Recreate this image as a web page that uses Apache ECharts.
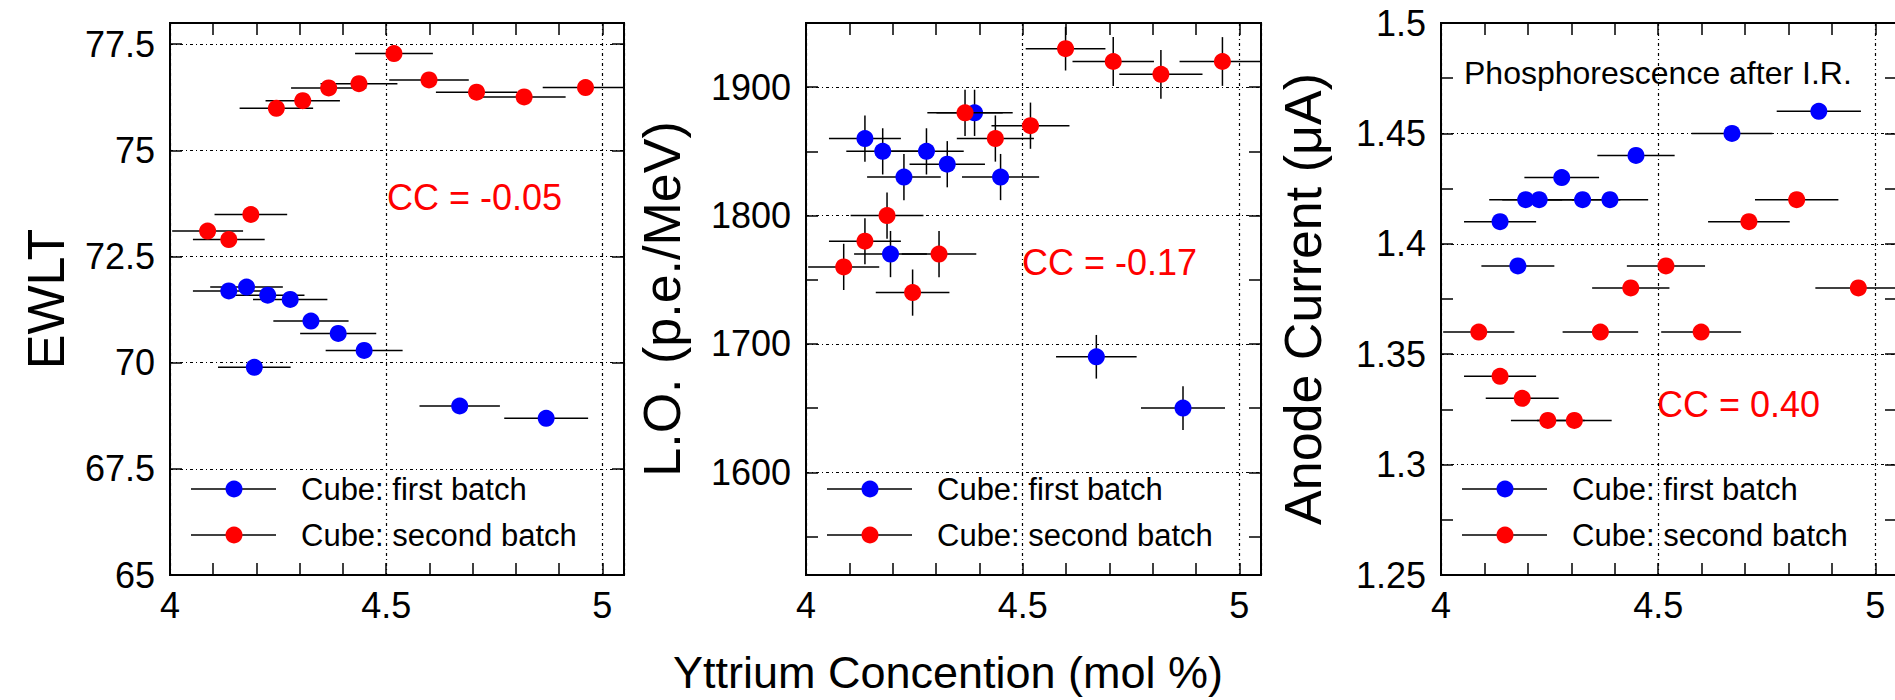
<!DOCTYPE html>
<html><head><meta charset="utf-8">
<script src="https://cdn.jsdelivr.net/npm/echarts@6/dist/echarts.min.js"></script>
<style>html,body{margin:0;padding:0;background:#fff;}#c{width:1895px;height:700px;}</style>
</head><body><div id="c"></div>
<script>
// ---- data ----
const seriesNames = ['Cube: first batch', 'Cube: second batch'];
const blueX    = [4.136, 4.177, 4.226, 4.278, 4.326, 4.389, 4.449, 4.195, 4.670, 4.870];
const blueXErr = [0.083, 0.084, 0.085, 0.086, 0.087, 0.088, 0.089, 0.084, 0.093, 0.097];
const redX     = [4.087, 4.136, 4.187, 4.246, 4.307, 4.367, 4.437, 4.518, 4.599, 4.709, 4.819, 4.961];
const redXErr  = [0.082, 0.083, 0.084, 0.085, 0.086, 0.087, 0.089, 0.090, 0.092, 0.094, 0.096, 0.099];

const blueEWLT = [71.69, 71.78, 71.59, 71.49, 70.98, 70.69, 70.29, 69.89, 68.98, 68.69];
const redEWLT  = [73.10, 72.90, 73.49, 75.99, 76.17, 76.47, 76.57, 77.28, 76.66, 76.37, 76.26, 76.48];

const blueLO    = [1860, 1850, 1830, 1850, 1840, 1880, 1830, 1770, 1690, 1650];
const blueLOErr = [18, 18, 18, 18, 18, 18, 18, 18, 17, 17];
const redLO     = [1760, 1780, 1800, 1740, 1770, 1880, 1860, 1870, 1930, 1920, 1910, 1920];
const redLOErr  = [18, 18, 18, 18, 18, 18, 18, 18, 17, 19, 19, 19];

const blueAnode = [1.41, 1.39, 1.42, 1.43, 1.42, 1.42, 1.44, 1.42, 1.45, 1.46];
const redAnode  = [1.36, 1.34, 1.33, 1.32, 1.32, 1.36, 1.38, 1.39, 1.36, 1.41, 1.42, 1.38];

const yTitles = ['EWLT', 'L.O. (p.e./MeV)', 'Anode Current (\u03bcA)'];
const xTitle = 'Yttrium Concention (mol %)';
const ccLabels = ['CC = -0.05', 'CC = -0.17', 'CC = 0.40'];
const noteText = 'Phosphorescence after I.R.';

// ---- layout ----
const FONT = "'Liberation Sans', Arial, Helvetica, sans-serif";
const BLUE = '#0000ff', RED = '#ff0000';
const panels = [
  {left: 170, width: 454, yMin: 65, yMax: 78, yMajor: 2.5, yMinor: 2.5, nameGap: 98,
   blueY: blueEWLT, redY: redEWLT, blueYErr: null, redYErr: null, cc: [387, 200]},
  {left: 806, width: 455, yMin: 1520, yMax: 1950, yMajor: 100, yMinor: 50, nameGap: 118,
   blueY: blueLO, redY: redLO, blueYErr: blueLOErr, redYErr: redLOErr, cc: [1022, 265]},
  {left: 1441, width: 456, yMin: 1.25, yMax: 1.5, yMajor: 0.05, yMinor: 0.025, nameGap: 112,
   blueY: blueAnode, redY: redAnode, blueYErr: null, redYErr: null, cc: [1657, 407]}
];
const TOP = 23, HEIGHT = 552;
const gridLine = {show: true, lineStyle: {color: '#000', width: 1.2, type: [3, 3, 1, 3]}};
const tickStyle = {show: true, inside: true, length: 12, lineStyle: {color: '#000', width: 1.5}};
const plainNum = v => String(Math.round(v * 1000) / 1000);

const grids = [], xAxes = [], yAxes = [], series = [], graphics = [];

panels.forEach((p, g) => {
  grids.push({left: p.left, top: TOP, width: p.width, height: HEIGHT, show: true,
    borderColor: '#000', borderWidth: 2, backgroundColor: 'transparent', containLabel: false, outerBoundsMode: 'none'});
  // x axes: main (labels + grid lines), bottom minor ticks, top ticks
  xAxes.push({type: 'value', gridIndex: g, min: 4, max: 5.05, interval: 0.5, position: 'bottom',
    axisLine: {show: false}, axisTick: {show: false}, splitLine: gridLine,
    axisLabel: {show: true, fontSize: 36, fontFamily: FONT, color: '#000', margin: 12, showMaxLabel: false,
      formatter: plainNum}});
  xAxes.push({type: 'value', gridIndex: g, min: 4, max: 5.05, interval: 0.1, position: 'bottom',
    axisLine: {show: false}, axisTick: tickStyle, splitLine: {show: false}, axisLabel: {show: false}});
  xAxes.push({type: 'value', gridIndex: g, min: 4, max: 5.05, interval: 0.1, position: 'top',
    axisLine: {show: false}, axisTick: tickStyle, splitLine: {show: false}, axisLabel: {show: false}});
  // y axes
  yAxes.push({type: 'value', gridIndex: g, min: p.yMin, max: p.yMax, minInterval: p.yMajor, maxInterval: p.yMajor,
    position: 'left', axisLine: {show: false}, axisTick: {show: false}, splitLine: gridLine,
    axisLabel: {show: true, fontSize: 36, fontFamily: FONT, color: '#000', margin: 15, formatter: plainNum,
      showMinLabel: g !== 1, showMaxLabel: g === 2},
    name: yTitles[g], nameLocation: 'middle', nameGap: p.nameGap, nameMoveOverlap: false,
    nameTextStyle: {fontSize: 52, fontFamily: FONT, color: '#000'}});
  yAxes.push({type: 'value', gridIndex: g, min: p.yMin, max: p.yMax, minInterval: p.yMinor, maxInterval: p.yMinor,
    position: 'left', axisLine: {show: false}, axisTick: tickStyle, splitLine: {show: false}, axisLabel: {show: false}});
  yAxes.push({type: 'value', gridIndex: g, min: p.yMin, max: p.yMax, minInterval: p.yMinor, maxInterval: p.yMinor,
    position: 'right', axisLine: {show: false}, axisTick: tickStyle, splitLine: {show: false}, axisLabel: {show: false}});

  const groups = [
    {name: seriesNames[0], xs: blueX, xe: blueXErr, ys: p.blueY, ye: p.blueYErr, color: BLUE},
    {name: seriesNames[1], xs: redX, xe: redXErr, ys: p.redY, ye: p.redYErr, color: RED}
  ];
  groups.forEach((s, k) => {
    series.push({
      type: 'custom', name: s.name + ' errors', xAxisIndex: 3 * g, yAxisIndex: 3 * g, clip: true, silent: true, z: 2 + 2 * k,
      data: s.xs.map((x, i) => [x, s.ys[i], s.xe[i], s.ye ? s.ye[i] : 0]),
      renderItem: function (params, api) {
        const x = api.value(0), y = api.value(1), ex = api.value(2), ey = api.value(3);
        const l = api.coord([x - ex, y]), r = api.coord([x + ex, y]);
        const ch = [{type: 'line', shape: {x1: l[0], y1: l[1], x2: r[0], y2: r[1]},
          style: {stroke: '#000', lineWidth: 1.5}}];
        if (ey) {
          const t = api.coord([x, y + ey]), b = api.coord([x, y - ey]);
          ch.push({type: 'line', shape: {x1: t[0], y1: t[1], x2: b[0], y2: b[1]},
            style: {stroke: '#000', lineWidth: 1.5}});
        }
        return {type: 'group', children: ch};
      }
    });
    series.push({
      type: 'scatter', name: s.name, xAxisIndex: 3 * g, yAxisIndex: 3 * g, symbol: 'circle', symbolSize: 17,
      itemStyle: {color: s.color, opacity: 1}, z: 3 + 2 * k, silent: true,
      data: s.xs.map((x, i) => [x, s.ys[i]])
    });
  });

  // CC label
  graphics.push({type: 'text', left: p.cc[0], top: p.cc[1] - 21,
    style: {text: ccLabels[g], fill: RED, font: '36px ' + FONT}});
  // legend
  const rows = [489, 535];
  groups.forEach((s, k) => {
    const y = rows[k];
    graphics.push({type: 'line', shape: {x1: p.left + 21, y1: y, x2: p.left + 106, y2: y},
      style: {stroke: '#000', lineWidth: 1.5}});
    graphics.push({type: 'circle', shape: {cx: p.left + 64, cy: y, r: 8.5}, style: {fill: s.color}});
    graphics.push({type: 'text', x: p.left + 131, y: y,
      style: {text: s.name, fill: '#000', font: '31px ' + FONT, textVerticalAlign: 'middle', verticalAlign: 'middle'}});
  });
});

graphics.push({type: 'text', x: 1464, y: 73,
  style: {text: noteText, fill: '#000', font: '32px ' + FONT, verticalAlign: 'middle', textVerticalAlign: 'middle'}});
graphics.push({type: 'text', x: 948, y: 672,
  style: {text: xTitle, fill: '#000', font: '45px ' + FONT, align: 'center', textAlign: 'center',
    verticalAlign: 'middle', textVerticalAlign: 'middle'}});

const chart = echarts.init(document.getElementById('c'), null, {renderer: 'svg'});
chart.setOption({
  animation: false,
  backgroundColor: '#fff',
  textStyle: {fontFamily: FONT},
  grid: grids, xAxis: xAxes, yAxis: yAxes, series: series,
  graphic: {elements: graphics}
});
</script></body></html>
